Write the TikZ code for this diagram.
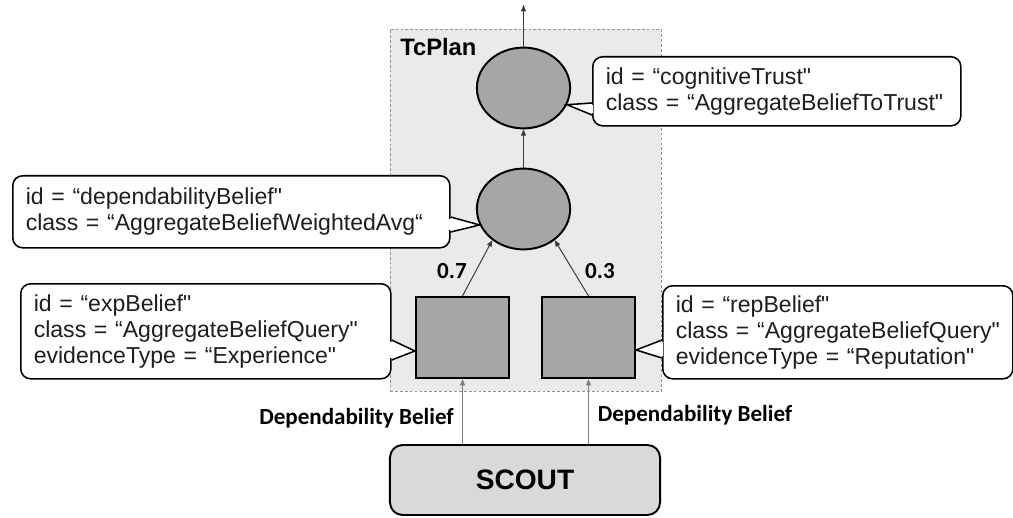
\documentclass[tikz,border=0pt]{standalone}
\usepackage{fontspec}
\setmainfont{Liberation Sans}[Ligatures=TeXOff]
\newfontfamily\calibrifont{Carlito}
\usetikzlibrary{arrows.meta,shapes.geometric,calc}
\definecolor{shapefill}{RGB}{166,166,166}
\definecolor{planfill}{RGB}{234,234,234}
\definecolor{scoutfill}{RGB}{217,217,217}
\definecolor{flowcolor}{RGB}{60,60,60}
\definecolor{feedcolor}{RGB}{125,125,125}
\definecolor{notetext}{RGB}{30,30,30}
\tikzset{
  flowln/.style={-{Triangle[length=4.5pt,width=3.6pt]}, line width=0.7pt, flowcolor},
  feedln/.style={-{Triangle[length=4.5pt,width=3.6pt]}, line width=0.7pt, feedcolor},
  noteln/.style={line width=1.1pt, black},
  planln/.style={draw=gray!85, dash pattern=on 2pt off 1.5pt, line width=0.6pt, fill=planfill},
  aggnode/.style={ellipse, draw, line width=1.4pt, fill=shapefill, minimum width=2.33cm, minimum height=2.02cm, inner sep=0pt},
  querynode/.style={rectangle, draw, line width=1.4pt, fill=shapefill, minimum width=2.33cm, minimum height=2.03cm, inner sep=0pt},
  notebox/.style={draw, noteln, fill=white, rounded corners=7pt, anchor=north west, align=left, inner xsep=0.325cm, inner ysep=0pt, text=notetext, font=\fontsize{16.4}{18.5}\selectfont, execute at begin node={\hyphenpenalty=10000}},
  scoutbox/.style={rectangle, rounded corners=9pt, draw, line width=1.4pt, fill=scoutfill, minimum width=6.75cm, minimum height=1.75cm, font=\bfseries\fontsize{20}{24}\selectfont},
  inlabel/.style={font=\bfseries\fontsize{16.9}{20}\selectfont, inner sep=0pt},
  wlabel/.style={font=\calibrifont\bfseries\fontsize{16.4}{18}\selectfont, inner sep=0pt},
}
\newcommand{\notetip}[3]{%
  \draw[noteln, fill=white] #1 -- #2 -- #3;
  \draw[white, line width=2pt, shorten <=1.2pt, shorten >=1.2pt] #1 -- #3;
}

\begin{document}
\begin{tikzpicture}[x=0.025cm, y=-0.025cm]
  \useasboundingbox (0,0) rectangle (1013,518);
  % Plan container
  \node[planln, minimum width=6.775cm, minimum height=9.05cm, inner sep=0pt] (plan) at (525.5,210) {};
  \node[inlabel, anchor=north west] (plantitle) at (400,38) {TcPlan};
  % Aggregation nodes
  \node[aggnode] (trust) at (523.5,88) {};
  \node[aggnode] (belief) at (523.5,209) {};
  % Query nodes
  \node[querynode] (expq) at (462.5,337.5) {};
  \node[querynode] (repq) at (588.5,337.5) {};
  % Source
  \node[scoutbox] (scout) at (525,480) {SCOUT};
  % Flow between nodes
  \coordinate (out) at (523.5,5);
  \draw[flowln] (trust) -- (out);
  \draw[flowln] (belief) -- (trust);
  \draw[flowln] (expq.north) -- (belief.225);
  \draw[flowln] (repq.north) -- (belief.-45);
  \node[wlabel] (wexp) at (452,271) {0.7};
  \node[wlabel] (wrep) at (600,271) {0.3};
  % Input from SCOUT
  \draw[feedln] (scout.north -| expq.south) -- (expq.south);
  \draw[feedln] (scout.north -| repq.south) -- (repq.south);
  \node[wlabel] (inexp) at (356.5,418) {Dependability Belief};
  \node[wlabel] (inrep) at (695,415) {Dependability Belief};
  % Notes
  \node[notebox, text width=8.55cm, minimum height=1.725cm] (trustnote) at (592,56)
    {id~=~“cognitiveTrust"\\class~=~“AggregateBeliefToTrust"};
  \notetip{(trustnote.west |- 0,103)}{(trust.-21)}{(trustnote.west |- 0,115)}
  \node[notebox, text width=10.275cm, minimum height=1.8cm] (depnote) at (12,175)
    {id~=~“dependabilityBelief"\\class~=~“AggregateBeliefWeightedAvg“};
  \notetip{(depnote.east |- 0,217)}{(belief.200)}{(depnote.east |- 0,232)}
  \node[notebox, text width=8.6cm, minimum height=2.375cm] (expnote) at (20,283)
    {id~=~“expBelief"\\class~=~“AggregateBeliefQuery"\\evidenceType~=~“Experience"};
  \notetip{(expnote.east |- 0,340)}{(expq.west |- 0,351)}{(expnote.east |- 0,360)}
  \node[notebox, text width=8.1cm, minimum height=2.325cm] (repnote) at (662,285)
    {id~=~“repBelief"\\class~=~“AggregateBeliefQuery"\\evidenceType~=~“Reputation"};
  \notetip{(repnote.west |- 0,340)}{(repq.east |- 0,350)}{(repnote.west |- 0,358)}
\end{tikzpicture}
\end{document}
